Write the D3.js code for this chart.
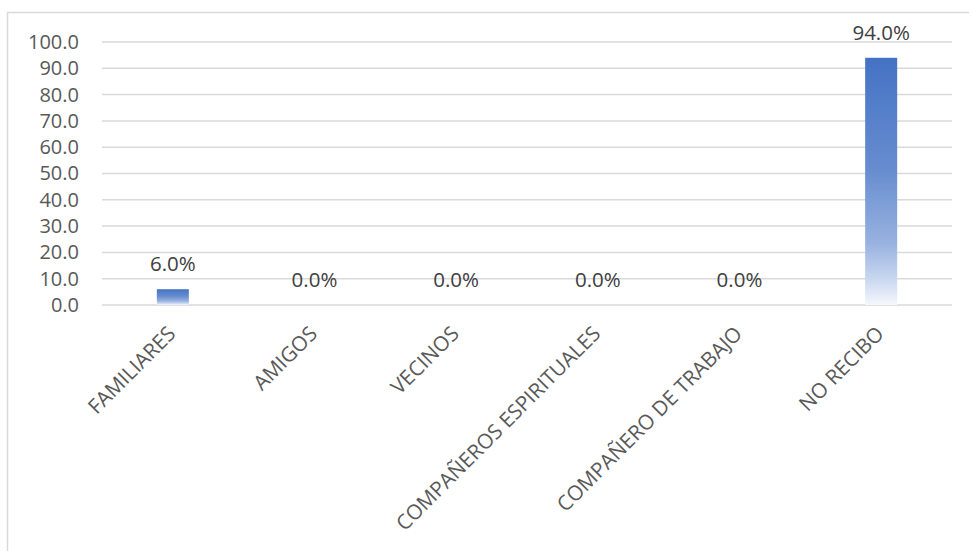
<!DOCTYPE html>
<html>
<head>
<meta charset="utf-8">
<script src="https://cdn.jsdelivr.net/npm/d3@7"></script>
<style>
  body { margin: 0; background: #fff; }
  svg { display: block; font-family: "Open Sans", sans-serif; }
</style>
</head>
<body>
<div id="chart"></div>
<script>
const categories = ["FAMILIARES", "AMIGOS", "VECINOS", "COMPAÑEROS ESPIRITUALES", "COMPAÑERO DE TRABAJO", "NO RECIBO"];
const values = [6.0, 0.0, 0.0, 0.0, 0.0, 94.0];
const yTicks = [0, 10, 20, 30, 40, 50, 60, 70, 80, 90, 100];

const width = 969, height = 551;
const margin = { left: 102, right: 17, top: 42, bottom: 246 };
const innerWidth = width - margin.left - margin.right,
    innerHeight = height - margin.top - margin.bottom;

const svg = d3.select("#chart").append("svg")
    .attr("width", width)
    .attr("height", height);

// chart frame (right and bottom edges fall outside the picture)
svg.append("path")
    .attr("d", "M7.5," + height + "V12.5H" + width)
    .attr("fill", "none")
    .attr("stroke", "#d9d9d9")
    .attr("stroke-width", 1.5);

const defs = svg.append("defs");
const grad = defs.append("linearGradient")
    .attr("id", "barGrad")
    .attr("x1", 0).attr("y1", 0).attr("x2", 0).attr("y2", 1);
[[0, "#4472c4"], [0.45, "#678dcf"], [0.75, "#98b2e0"], [0.9, "#cbd8f0"], [1, "#f5f8fd"]]
    .forEach(s => grad.append("stop").attr("offset", s[0]).attr("stop-color", s[1]));

const g = svg.append("g")
    .attr("transform", "translate(" + margin.left + "," + margin.top + ")");

const xScale = d3.scaleBand()
    .domain(categories)
    .range([0, innerWidth])
    .paddingInner(0.774)
    .paddingOuter(0.387);

const yScale = d3.scaleLinear()
    .domain([0, 100])
    .range([innerHeight, 0]);

// gridlines
g.selectAll(".grid")
    .data(yTicks)
    .enter().append("line")
    .attr("class", "grid")
    .attr("x1", 0).attr("x2", innerWidth)
    .attr("y1", d => yScale(d)).attr("y2", d => yScale(d))
    .attr("stroke", "#d9d9d9")
    .attr("stroke-width", 1.5);

// y axis labels
const yAxis = g.append("g")
    .call(d3.axisLeft(yScale).tickValues(yTicks).tickFormat(d3.format(".1f")).tickSize(0).tickPadding(23));
yAxis.select(".domain").remove();
yAxis.selectAll("text")
    .attr("fill", "#595959")
    .style("font-size", "20px")
    .style("font-family", "'Open Sans', sans-serif");

// bars
g.selectAll(".bar")
    .data(values)
    .enter().append("rect")
    .attr("class", "bar")
    .attr("x", (d, i) => xScale(categories[i]))
    .attr("y", d => yScale(d))
    .attr("width", xScale.bandwidth())
    .attr("height", d => innerHeight - yScale(d))
    .attr("fill", "url(#barGrad)");

// value labels
g.selectAll(".val")
    .data(values)
    .enter().append("text")
    .attr("class", "val")
    .attr("x", (d, i) => xScale(categories[i]) + xScale.bandwidth() / 2)
    .attr("y", d => yScale(d) - 18)
    .attr("text-anchor", "middle")
    .attr("fill", "#404040")
    .style("font-size", "20.5px")
    .text(d => d3.format(".1f")(d) + "%");

// category labels
g.selectAll(".cat")
    .data(categories)
    .enter().append("text")
    .attr("class", "cat")
    .attr("transform", d => "translate(" + (xScale(d) + xScale.bandwidth() / 2 + 4) + "," + (innerHeight + 30) + ") rotate(-45)")
    .attr("text-anchor", "end")
    .attr("fill", "#595959")
    .style("font-size", "20.7px")
    .text(d => d);
</script>
</body>
</html>
